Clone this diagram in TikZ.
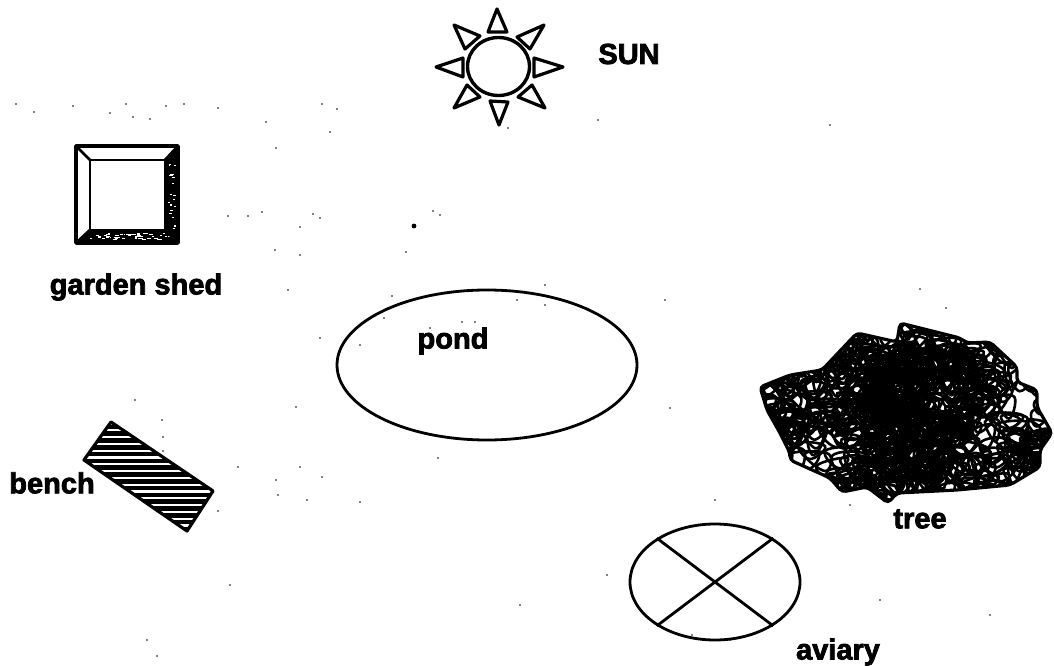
\documentclass[tikz,border=0pt]{standalone}
\usepackage{fontspec}
\newfontfamily\lab[UprightFont={* Bold},FakeBold=2.6]{Liberation Sans}
\usetikzlibrary{shapes.geometric}
\tikzset{
  lbl/.style={font=\lab\fontsize{29}{29}\selectfont,inner sep=0pt,text=black},
  ink/.style={draw=black,line width=2.8pt,line join=round},
  ray/.style={draw=black,line width=3.2pt,line join=round},
  speck/.style={fill=black,draw=none},
  scribble/.style={draw=black,line width=2.6pt}
}
\begin{document}
\begin{tikzpicture}[x=1pt,y=-1pt]
\useasboundingbox (0,0) rectangle (1054,666);
\fill[white] (0,0) rectangle (1054,666);
\pgfmathsetseed{11}
% sun
\node[ellipse,ink,line width=3.4pt,minimum width=62pt,minimum height=58pt,inner sep=0pt] (sun) at (498.5,66.5) {};
\draw[ray] (497,9)--(488,32)--(507,32)--cycle;
\draw[ray] (563,67)--(534,58)--(534,77)--cycle;
\draw[ray] (499,125)--(490,101)--(508,102)--cycle;
\draw[ray] (436,67)--(463,58)--(463,77)--cycle;
\draw[ray] (544,25)--(517,37)--(530,49)--cycle;
\draw[ray] (454,25)--(480,36)--(465,49)--cycle;
\draw[ray] (545,108)--(532,85)--(518,97)--cycle;
\draw[ray] (454,108)--(467,85)--(480,97)--cycle;
\node[lbl] (sunlabel) at (629,54) {SUN};
% shed
\fill[black] (178,146)--(165,160)--(165,230)--(178,243)--cycle;
\fill[black] (76,243)--(90,230)--(165,230)--(178,243)--cycle;
\foreach \i in {1,...,22}{
  \pgfmathsetmacro\px{168+rnd*7}\pgfmathsetmacro\py{160+rnd*72}
  \fill[white] (\px,\py) rectangle +(1.2+rnd*2,1.2);
}
\foreach \i in {1,...,45}{
  \pgfmathsetmacro\px{90+rnd*80}\pgfmathsetmacro\py{233+rnd*6}
  \fill[white] (\px,\py) rectangle +(1.5+rnd*3.5,1.1);
}
\draw[ink,line width=3.4pt] (76,146) rectangle (178,243);
\draw[ink] (90,160) rectangle (165,230);
\draw[ink] (76,146)--(90,160) (178,146)--(165,160) (76,243)--(90,230) (178,243)--(165,230);
\node[lbl] (shedlabel) at (136,287) {garden shed};
% bench
\begin{scope}
\clip (111,422)--(213,491)--(187,531)--(84,460)--cycle;
\foreach \y in {420,426.8,...,535}{\draw[black,line width=4.6pt] (80,\y)--(220,\y);}
\end{scope}
\draw[ink,line width=3.2pt] (111,422)--(213,491)--(187,531)--(84,460)--cycle;
\node[lbl] (benchlabel) at (52,483) {bench};
% pond
\node[ellipse,ink,minimum width=300pt,minimum height=150pt,inner sep=0pt] (pond) at (487,365) {};
\node[lbl] (pondlabel) at (453,341) {pond};
% tree
\def\treeoutline{(760,387)--(790,375)--(822,370)--(857,333)--(897,342)--(900,323)--(960,338)--(967,343)--(990,342)--(1017,367)--(1017,382)--(1037,390)--(1037,407)--(1052,433)--(1040,450)--(1040,467)--(1010,485)--(957,490)--(897,493)--(888,503)--(867,487)--(842,492)--(830,478)--(790,460)--(790,453)--(780,433)--(767,410)--cycle}
\begin{scope}
\clip \treeoutline;
\foreach \i in {1,...,520}{
  \pgfmathsetmacro\cx{755+rnd*300}\pgfmathsetmacro\cy{325+rnd*175}
  \pgfmathsetmacro\ax{\cx+6+rnd*12}\pgfmathsetmacro\ay{\cy-3-rnd*10}
  \pgfmathsetmacro\bx{\cx-6-rnd*12}\pgfmathsetmacro\by{\cy-4-rnd*8}
  \pgfmathsetmacro\dx{\cx-6+rnd*12}\pgfmathsetmacro\dy{\cy+5+rnd*10}
  \draw[scribble] plot[smooth cycle,tension=0.8] coordinates {(\ax,\ay)(\bx,\by)(\dx,\dy)};
}
\foreach \i in {1,...,170}{
  \pgfmathsetmacro\cx{870+rnd*100}\pgfmathsetmacro\cy{350+rnd*125}
  \pgfmathsetmacro\ax{\cx+5+rnd*10}\pgfmathsetmacro\ay{\cy-3-rnd*8}
  \pgfmathsetmacro\bx{\cx-5-rnd*10}\pgfmathsetmacro\by{\cy-4-rnd*8}
  \pgfmathsetmacro\dx{\cx-5+rnd*10}\pgfmathsetmacro\dy{\cy+5+rnd*9}
  \draw[scribble] plot[smooth cycle,tension=0.8] coordinates {(\ax,\ay)(\bx,\by)(\dx,\dy)};
}
\end{scope}
\draw[scribble,line width=3.2pt,rounded corners=4pt] \treeoutline;
\node[lbl] (treelabel) at (920,519) {tree};
% aviary
\node[ellipse,ink,minimum width=170pt,minimum height=116pt,inner sep=0pt] (aviary) at (715,582) {};
\draw[ink] (aviary.143)--(aviary.323);
\draw[ink] (aviary.37)--(aviary.217);
\node[lbl] (aviarylabel) at (838,652) {aviary};
% specks
\fill[speck] (414,226) circle (2.4pt);
\foreach \p in {(135,400),(162,420),(163,437),(163,451),(218,511),(276,148),(228,216),(300,227),(313,214),(320,218),(275,250),(300,255),(262,212),(248,216),(337,109),(330,132),(322,104),(266,122),(218,108),(184,104),(166,106),(150,119),(133,117),(126,104),(110,113),(73,106),(16,104),(34,112),(360,345),(384,318),(430,328),(462,322),(475,322),(545,305),(545,285),(517,300),(440,215),(433,211),(406,252),(296,407),(238,467),(300,467),(276,480),(322,477),(278,495),(307,500),(360,502),(288,290),(320,338),(392,296),(438,458),(520,605),(607,575),(692,635),(880,600),(990,615),(920,289),(946,308),(830,125),(670,408),(665,300),(598,120),(508,128),(230,585),(157,656),(147,640),(730,640),(715,500),(850,505)}{
  \fill[speck] \p circle (0.9pt);
}
\end{tikzpicture}
\end{document}
